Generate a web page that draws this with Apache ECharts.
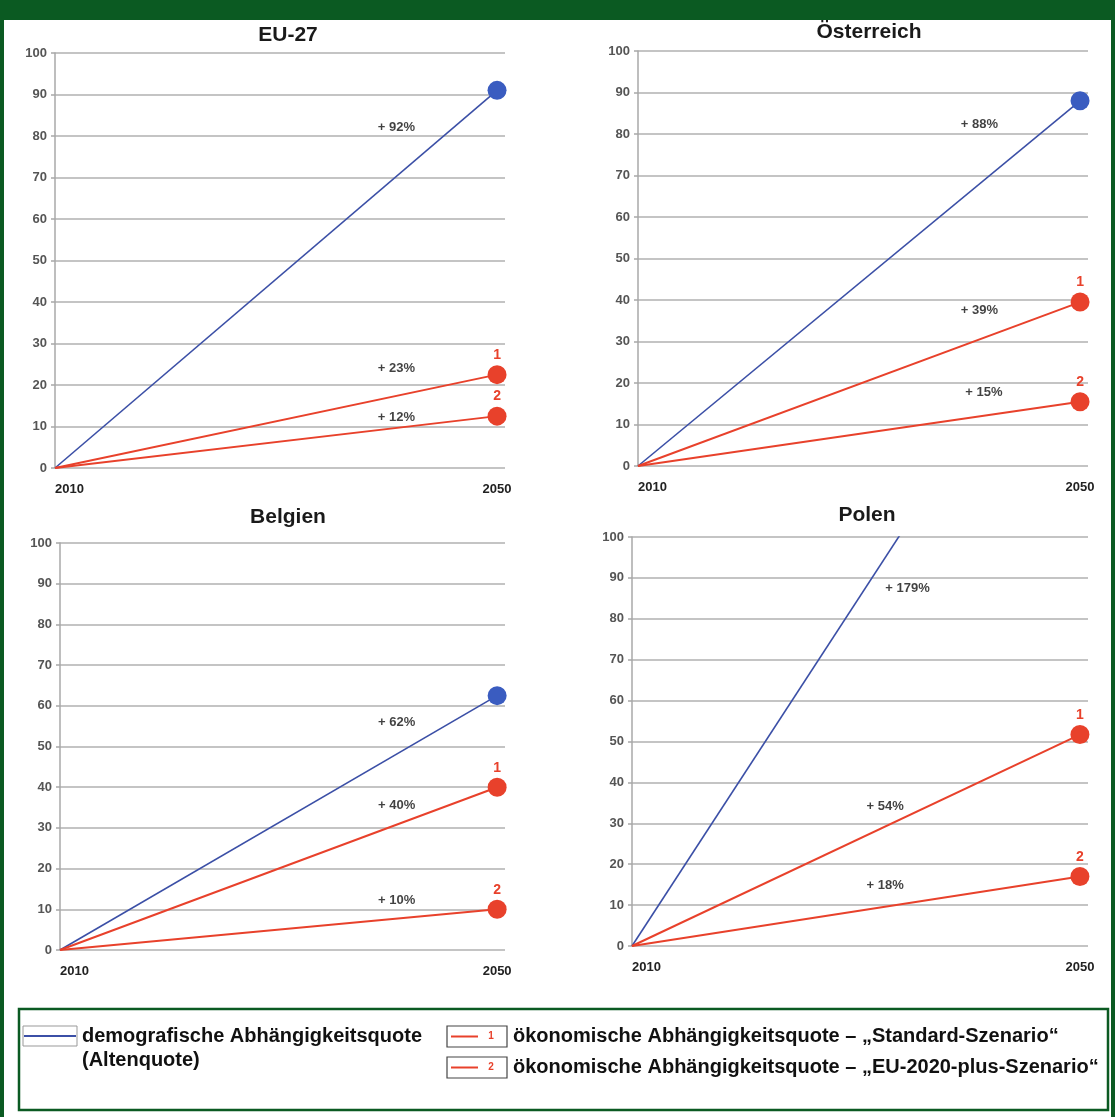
<!DOCTYPE html>
<html><head><meta charset="utf-8">
<script src="https://cdn.jsdelivr.net/npm/echarts@6/dist/echarts.min.js"></script>
<style>html,body{margin:0;padding:0;background:#fff}#c{width:1115px;height:1117px}</style>
</head><body><div id="c"></div>
<script>
// ---- data ----
const years = [2010, 2050];
const yTicks = [0, 10, 20, 30, 40, 50, 60, 70, 80, 90, 100];
const panels = ['EU-27', 'Österreich', 'Belgien', 'Polen'];
const demografisch = [91, 88, 62.5, 168];      // value in 2050 (2010 = 0)
const standard     = [22.5, 39.5, 40, 51.7];
const eu2020plus   = [12.5, 15.5, 10, 17];
const changeLabels = [
  ['+ 92%', '+ 23%', '+ 12%'],
  ['+ 88%', '+ 39%', '+ 15%'],
  ['+ 62%', '+ 40%', '+ 10%'],
  ['+ 179%', '+ 54%', '+ 18%']
];
// annotation anchor positions (data space) for the change labels
const labelPos = [
  [[2040.9, 82.0], [2040.9, 24.0], [2040.9, 12.3]],
  [[2040.9, 82.4], [2040.9, 37.6], [2041.3, 17.8]],
  [[2040.8, 56.0], [2040.8, 35.6], [2040.8, 12.3]],
  [[2034.6, 87.5], [2032.6, 34.2], [2032.6, 14.7]]
];

// ---- layout ----
const grids = [
  {left: 55, top: 53, width: 450, height: 415},
  {left: 638, top: 51, width: 450, height: 415},
  {left: 60, top: 543, width: 445, height: 407},
  {left: 632, top: 537, width: 456, height: 409}
];
const titlePos = [[283, 20], [864, 17], [283, 502], [862, 500]];
const xMax = 2050.72;
const GREEN = '#0b5a22', BLUE = '#3b4fa6', BLUEDOT = '#3a5cc0', RED = '#e8412b';
const FONT = 'Liberation Sans, Arial, sans-serif';

const option = {
  animation: false,
  backgroundColor: '#fff',
  textStyle: {fontFamily: FONT},
  title: panels.map((p, i) => ({
    text: p, left: titlePos[i][0], top: titlePos[i][1], textAlign: 'center',
    textStyle: {fontSize: 21, fontWeight: 'bold', color: '#1a1a1a', fontFamily: FONT}
  })),
  grid: grids,
  xAxis: grids.map((g, i) => ({
    type: 'value', gridIndex: i, min: 2010, max: xMax,
    splitLine: {show: false}, axisLine: {show: false}, axisTick: {show: false},
    axisLabel: {
      customValues: years, margin: 15, fontSize: 13, fontWeight: 'bold', color: '#222',
      alignMinLabel: 'left', fontFamily: FONT,
      formatter: v => String(Math.round(v))
    }
  })),
  yAxis: grids.map((g, i) => ({
    type: 'value', gridIndex: i, min: 0, max: 100, interval: 10,
    axisLine: {show: true, lineStyle: {color: '#a8a8a8', width: 1.5}},
    axisTick: {show: true, length: 4, lineStyle: {color: '#a8a8a8', width: 1.5}},
    splitLine: {show: true, lineStyle: {color: '#b0b0b0', width: 1.5}},
    axisLabel: {margin: 8, fontSize: 13, fontWeight: 'bold', color: '#555', fontFamily: FONT,
      formatter: v => yTicks.includes(v) ? String(v) : ''}
  })),
  series: [],
  graphic: []
};

const endSize = (v, p) => (p.dataIndex === 1 ? 19 : 0);
panels.forEach((p, i) => {
  option.series.push({
    type: 'line', xAxisIndex: i, yAxisIndex: i, name: 'demografisch',
    data: [[years[0], 0], [years[1], demografisch[i]]],
    symbol: 'circle', symbolSize: endSize, clip: true,
    lineStyle: {color: BLUE, width: 1.6}, itemStyle: {color: BLUEDOT}, z: 3
  });
  [standard, eu2020plus].forEach((arr, k) => {
    option.series.push({
      type: 'line', xAxisIndex: i, yAxisIndex: i, name: 'oek' + (k + 1),
      data: [[years[0], 0], {value: [years[1], arr[i]], label: {show: true}}],
      symbol: 'circle', symbolSize: endSize, clip: true,
      lineStyle: {color: RED, width: 2}, itemStyle: {color: RED},
      label: {show: false, position: 'top', distance: 3, formatter: String(k + 1),
        color: RED, fontWeight: 'bold', fontSize: 14, fontFamily: FONT},
      z: 4
    });
  });
  option.series.push({
    type: 'scatter', xAxisIndex: i, yAxisIndex: i, symbolSize: 0, silent: true,
    data: labelPos[i].map((pos, k) => ({value: pos, name: changeLabels[i][k]})),
    label: {show: true, position: 'inside', formatter: q => q.name,
      color: '#111', fontWeight: 'bold', fontSize: 13, fontFamily: FONT},
    z: 5
  });
});

// frame + legend
const G = option.graphic;
G.push({type: 'rect', shape: {x: 0, y: 0, width: 1115, height: 20}, style: {fill: GREEN}, z: 10});
G.push({type: 'rect', shape: {x: 0, y: 0, width: 4, height: 1117}, style: {fill: GREEN}, z: 10});
G.push({type: 'rect', shape: {x: 1111, y: 0, width: 4, height: 1117}, style: {fill: GREEN}, z: 10});
G.push({type: 'rect', shape: {x: 19, y: 1009, width: 1089, height: 101}, style: {fill: '#fff', stroke: GREEN, lineWidth: 2.5}, z: 1});
// blue legend icon
G.push({type: 'rect', shape: {x: 23, y: 1026, width: 54, height: 20}, style: {fill: '#fff', stroke: '#999', lineWidth: 1}, z: 11});
G.push({type: 'line', shape: {x1: 24, y1: 1036, x2: 76, y2: 1036}, style: {stroke: BLUE, lineWidth: 2}, z: 12});
// red legend icons
[[1026, '1'], [1057, '2']].forEach(([y, t]) => {
  G.push({type: 'rect', shape: {x: 447, y: y, width: 60, height: 21}, style: {fill: '#fff', stroke: '#444', lineWidth: 1.2}, z: 11});
  G.push({type: 'line', shape: {x1: 451, y1: y + 10.5, x2: 478, y2: y + 10.5}, style: {stroke: RED, lineWidth: 2}, z: 12});
  G.push({type: 'text', x: 491, y: y + 10.5, style: {text: t, fill: RED, font: 'bold 10px ' + FONT, align: 'center', verticalAlign: 'middle'}, z: 12});
});
const legendText = [
  [82, 1036, 'demografische Abhängigkeitsquote'],
  [82, 1060, '(Altenquote)'],
  [513, 1036, 'ökonomische Abhängigkeitsquote – „Standard-Szenario“'],
  [513, 1067, 'ökonomische Abhängigkeitsquote – „EU-2020-plus-Szenario“']
];
legendText.forEach(([x, y, t]) => G.push({type: 'text', x: x, y: y,
  style: {text: t, fill: '#111', font: 'bold 20px ' + FONT, verticalAlign: 'middle'}, z: 12}));

const chart = echarts.init(document.getElementById('c'));
chart.setOption(option);
</script></body></html>
